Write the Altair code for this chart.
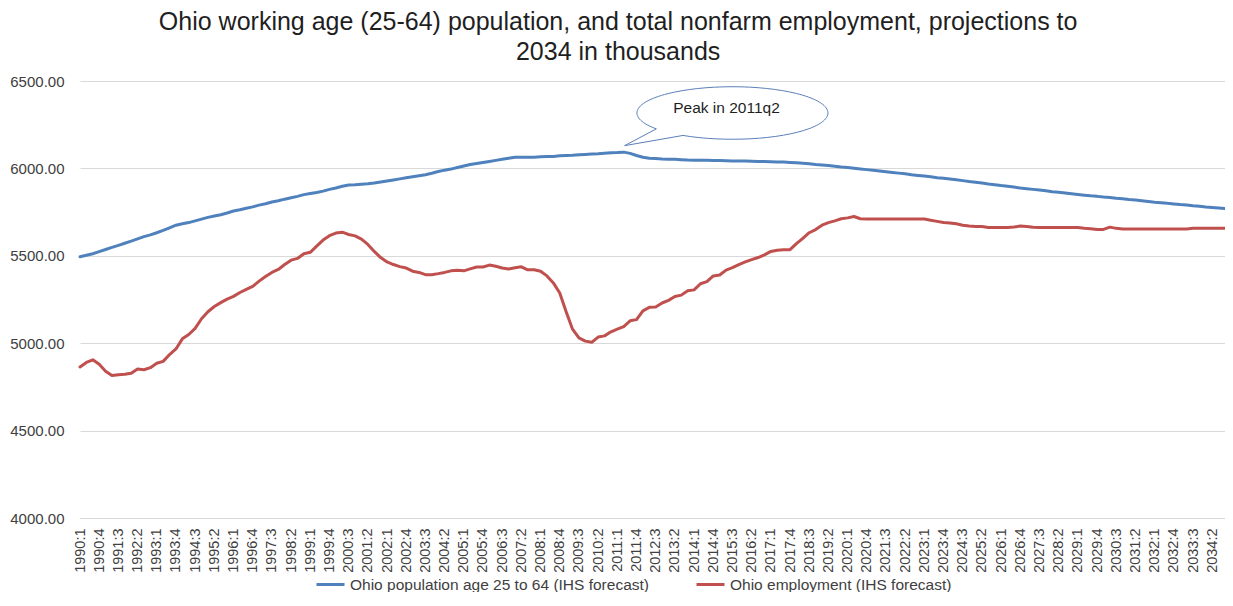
import math
import altair as alt
import pandas as pd

FONT = "Liberation Sans"

years = list(range(1990, 2035))
quarter_nums = [1, 2, 3, 4]
quarters = [f"{y}:{q}" for y in years for q in quarter_nums]
tick_labels = quarters[::3]

population = [
    5495, 5503, 5512, 5524, 5536, 5548, 5560, 5572, 5584, 5597,
    5610, 5620, 5632, 5645, 5660, 5675, 5683, 5690, 5700, 5710,
    5720, 5728, 5735, 5745, 5756, 5763, 5772, 5780, 5790, 5798,
    5808, 5815, 5824, 5832, 5840, 5850, 5856, 5862, 5870, 5880,
    5888, 5898, 5905, 5907, 5910, 5912, 5916, 5922, 5928, 5934,
    5940, 5946, 5952, 5958, 5964, 5972, 5982, 5990, 5996, 6005,
    6014, 6022, 6028, 6034, 6040, 6046, 6052, 6058, 6064, 6064,
    6064, 6064, 6066, 6068, 6068, 6072, 6074, 6075, 6078, 6080,
    6082, 6084, 6087, 6090, 6091, 6093, 6086, 6074, 6064, 6058,
    6056, 6054, 6053, 6052, 6050, 6048, 6047, 6046, 6046, 6045,
    6045, 6044, 6043, 6043, 6042, 6041, 6040, 6039, 6038, 6037,
    6036, 6034, 6032, 6029, 6026, 6022, 6019, 6016, 6012, 6008,
    6005, 6001, 5997, 5993, 5989, 5985, 5981, 5977, 5973, 5969,
    5964, 5960, 5956, 5952, 5947, 5943, 5939, 5935, 5930, 5925,
    5921, 5916, 5911, 5907, 5902, 5898, 5893, 5888, 5884, 5880,
    5876, 5872, 5867, 5863, 5859, 5855, 5851, 5847, 5843, 5840,
    5836, 5833, 5829, 5826, 5822, 5819, 5815, 5811, 5807, 5804,
    5800, 5797, 5793, 5790, 5786, 5783, 5779, 5776, 5773, 5770,
]

employment = [
    4864, 4890, 4905, 4880, 4840, 4815, 4820, 4822, 4828, 4852,
    4848, 4860, 4885, 4896, 4935, 4967, 5025, 5050, 5085, 5140,
    5180, 5210, 5232, 5252, 5268, 5290, 5308, 5325, 5355, 5382,
    5405, 5422, 5450, 5475, 5485, 5512, 5520, 5555, 5590, 5615,
    5630, 5635, 5622, 5614, 5595, 5565, 5525, 5490, 5465, 5450,
    5438, 5430, 5412, 5405, 5392, 5392, 5398, 5405, 5414, 5418,
    5414, 5425, 5436, 5436, 5447, 5440, 5430, 5424, 5432, 5437,
    5420, 5420, 5412, 5385, 5345, 5287, 5180, 5080, 5030, 5012,
    5005, 5035, 5042, 5065, 5080, 5095, 5128, 5135, 5185, 5205,
    5207, 5230, 5245, 5267, 5275, 5300, 5305, 5340, 5352, 5385,
    5390, 5418, 5432, 5450, 5465, 5478, 5490, 5505, 5525, 5532,
    5535, 5535, 5570, 5600, 5632, 5650, 5675, 5690, 5700, 5712,
    5717, 5725, 5712, 5710, 5710, 5710, 5710, 5710, 5710, 5710,
    5710, 5710, 5710, 5703, 5697, 5690, 5688, 5683, 5675, 5670,
    5668, 5668, 5662, 5662, 5662, 5662, 5665, 5670, 5668, 5663,
    5662, 5662, 5662, 5662, 5662, 5662, 5662, 5657, 5655, 5650,
    5651, 5664, 5657, 5653, 5653, 5653, 5653, 5653, 5653, 5653,
    5653, 5653, 5653, 5653, 5658, 5658, 5658, 5658, 5658, 5658,
]

series_names = [
    "Ohio population age 25 to 64 (IHS forecast)",
    "Ohio employment (IHS forecast)",
]
series_colors = ["#4f81bd", "#c0504d"]
y_ticks = [4000, 4500, 5000, 5500, 6000, 6500]

title_lines = [
    "Ohio working age (25-64) population, and total nonfarm employment, projections to",
    "2034 in thousands",
]

callout_text = ["Peak in 2011q2"]
callout_quarter = ["2015:3"]
callout_value = [6317]

df = pd.DataFrame({
    "quarter": quarters + quarters,
    "value": population + employment,
    "series": [series_names[0]] * len(quarters) + [series_names[1]] * len(quarters),
})
callout_df = pd.DataFrame({
    "quarter": callout_quarter,
    "value": callout_value,
    "text": callout_text,
})

# speech-bubble outline (unit symbol coordinates)
RY = 0.275


def ept(t):
    return (math.cos(t), RY * math.sin(t))


tL = math.acos(-0.797)
tR = math.acos(-0.518)
start, end = tR, tL - 2 * math.pi
n = 8
segs = []
for i in range(n):
    a = start + (end - start) * i / n
    b = start + (end - start) * (i + 1) / n
    al = 4.0 / 3.0 * math.tan((b - a) / 4)
    p0, p1 = ept(a), ept(b)
    d0 = (-math.sin(a), RY * math.cos(a))
    d1 = (-math.sin(b), RY * math.cos(b))
    c1 = (p0[0] + al * d0[0], p0[1] + al * d0[1])
    c2 = (p1[0] - al * d1[0], p1[1] - al * d1[1])
    segs.append(f"C {c1[0]:.4f} {c1[1]:.4f} {c2[0]:.4f} {c2[1]:.4f} {p1[0]:.4f} {p1[1]:.4f}")
pL, pR = ept(tL), ept(tR)
bubble_path = (f"M {pL[0]:.4f} {pL[1]:.4f} L -1.129 0.342 L {pR[0]:.4f} {pR[1]:.4f} "
               + " ".join(segs) + " Z")

x_enc = alt.X(
    "quarter:O",
    scale=alt.Scale(type="point", domain=quarters, padding=0),
    axis=alt.Axis(
        values=tick_labels, labelAngle=-90, labelFontSize=14.5, labelFont=FONT,
        labelColor="#404040", ticks=False, labelPadding=10, domain=True,
        domainColor="#d9d9d9", domainWidth=1, grid=False, labelOverlap=False,
        labelBound=False,
    ),
    title=None,
)
y_enc = alt.Y(
    "value:Q",
    scale=alt.Scale(domain=[4000, 6500], nice=False, zero=False),
    axis=alt.Axis(
        values=y_ticks, format=".2f", labelFontSize=15, labelFont=FONT,
        labelColor="#404040", ticks=False, labelPadding=16, domain=False,
        grid=True, gridColor="#d9d9d9", gridWidth=1,
    ),
    title=None,
)

lines = alt.Chart(df).mark_line(strokeWidth=3, strokeJoin="round", strokeCap="round").encode(
    x=x_enc,
    y=y_enc,
    color=alt.Color(
        "series:N",
        scale=alt.Scale(domain=series_names, range=series_colors),
        sort=series_names,
        legend=alt.Legend(
            orient="none", legendX=235, legendY=488, direction="horizontal",
            title=None, symbolType="stroke", symbolSize=784, symbolStrokeWidth=3,
            labelFontSize=15.5, labelFont=FONT, labelColor="#404040",
            columnPadding=41, labelLimit=600, labelOffset=4,
        ),
    ),
    detail="series:N",
)

bubble = alt.Chart(callout_df).mark_point(
    shape=bubble_path, size=36481, filled=True, fill="white", stroke="#5b7fb8",
    strokeWidth=1, opacity=1, fillOpacity=1,
).encode(x=x_enc, y=y_enc)

bubble_text = alt.Chart(callout_df).mark_text(
    font=FONT, fontSize=15.5, color="#1f1f1f", dx=-6, dy=-5,
).encode(x=x_enc, y=y_enc, text="text:N")

chart = alt.layer(lines, bubble, bubble_text).properties(
    width=1145,
    height=437,
    title=alt.TitleParams(
        title_lines, fontSize=25, font=FONT, fontWeight="normal", color="#1f1f1f",
        anchor="middle", frame="bounds", offset=9, lineHeight=30,
    ),
    autosize=alt.AutoSizeParams(type="none"),
    padding={"left": 72, "top": 73, "right": 0, "bottom": 74},
).configure_view(stroke=None)

chart.save("out.html", embed_options={"renderer": "svg", "actions": False})
